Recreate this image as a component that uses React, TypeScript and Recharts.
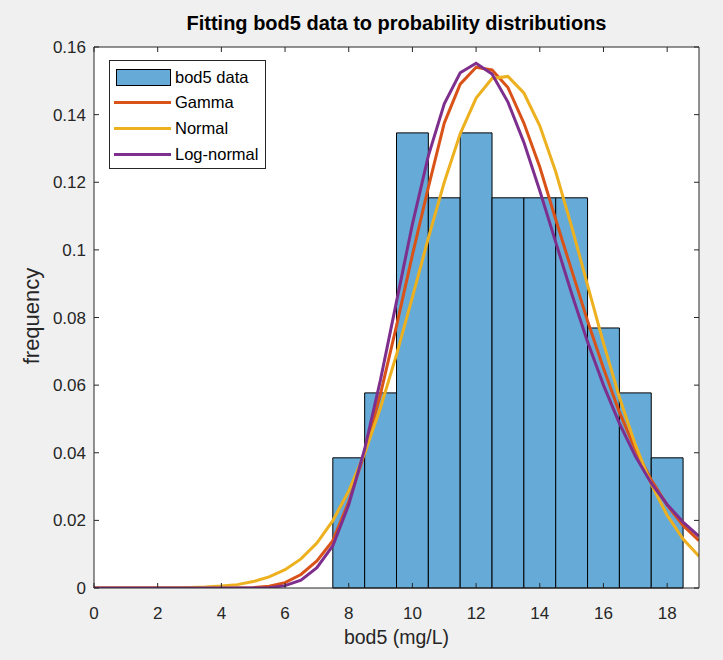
import { ComposedChart, Line, XAxis, YAxis, ReferenceArea } from "recharts";

// histogram bins of bod5 (width 1 mg/L), normalized to frequency
const binLo = [7.5, 8.5, 9.5, 10.5, 11.5, 12.5, 13.5, 14.5, 15.5, 16.5, 17.5];
const binHi = [8.5, 9.5, 10.5, 11.5, 12.5, 13.5, 14.5, 15.5, 16.5, 17.5, 18.5];
const binFreq = [0.0385, 0.0577, 0.1346, 0.1154, 0.1346, 0.1154, 0.1154, 0.1154, 0.0769, 0.0577, 0.0385];

// fitted pdf curves
const xs = [
  0, 0.5, 1, 1.5, 2, 2.5, 3, 3.5, 4, 4.5, 5, 5.5, 6, 6.5, 7, 7.5, 8, 8.5, 9, 9.5,
  10, 10.5, 11, 11.5, 12, 12.5, 13, 13.5, 14, 14.5, 15, 15.5, 16, 16.5, 17, 17.5, 18, 18.5, 19,
];
const gammaPdf = [
  0, 0, 0, 0, 0, 0, 0, 0, 0, 0.00002, 0.0001, 0.0005, 0.0016, 0.004, 0.008, 0.014, 0.0255, 0.04, 0.0575, 0.0775,
  0.0985, 0.1185, 0.1375, 0.149, 0.154, 0.1532, 0.148, 0.1375, 0.1245, 0.109, 0.094, 0.079, 0.065, 0.052, 0.041, 0.032, 0.0245, 0.0185, 0.014,
];
const normalPdf = [
  0, 0, 0.00001, 0.00001, 0.00003, 0.00007, 0.00015, 0.0003, 0.00056, 0.001, 0.0019, 0.0033, 0.0054, 0.0086, 0.0133, 0.0199, 0.0287, 0.0399, 0.0534, 0.069,
  0.086, 0.1035, 0.12, 0.1343, 0.1449, 0.1507, 0.1513, 0.1464, 0.1367, 0.1231, 0.1069, 0.0896, 0.0724, 0.0564, 0.0424, 0.0307, 0.0215, 0.0145, 0.0094,
];
const lognormalPdf = [
  0, 0, 0, 0, 0, 0, 0, 0, 0, 0, 0, 0.0001, 0.0007, 0.0023, 0.006, 0.0125, 0.0246, 0.0411, 0.0617, 0.0847,
  0.1076, 0.1278, 0.1432, 0.1524, 0.1552, 0.152, 0.1437, 0.1318, 0.1175, 0.1023, 0.0871, 0.0728, 0.06, 0.0487, 0.039, 0.031, 0.0247, 0.0195, 0.0153,
];

const xTicks = [0, 2, 4, 6, 8, 10, 12, 14, 16, 18];
const yTicks = [0, 0.02, 0.04, 0.06, 0.08, 0.1, 0.12, 0.14, 0.16];

const BAR = "#66aad7";
const GAMMA = "#d95319";
const NORMAL = "#edb120";
const LOGN = "#7e2f8e";
const INK = "#262626";
const FONT = "'Liberation Sans', Arial, sans-serif";

const data = xs.map((x, i) => ({
  x,
  Gamma: gammaPdf[i],
  Normal: normalPdf[i],
  Lognormal: lognormalPdf[i],
}));

const fmtY = (v: number) => String(Number(v.toFixed(2)));
const noTick = () => <g />;

export default function App() {
  const tickStyle = { fill: INK, fontSize: 17, fontFamily: FONT };
  return (
    <div style={{ position: "fixed", left: 0, top: 0, width: 723, height: 660, background: "#f0f0f0", fontFamily: FONT }}>
      <ComposedChart
        width={723}
        height={660}
        data={data}
        margin={{ top: 37, right: 14, bottom: 32, left: 24 }}
      >
        <rect x={94} y={47} width={605} height={541} fill="#ffffff" />
        <XAxis
          dataKey="x" type="number" domain={[0, 19]} ticks={xTicks}
          allowDataOverflow height={40}
          stroke={INK} tickSize={-5} tickMargin={24}
          tick={tickStyle}
        />
        <XAxis
          xAxisId="top" orientation="top" dataKey="x" type="number" domain={[0, 19]} ticks={xTicks}
          allowDataOverflow height={10}
          stroke={INK} tickSize={-5} tick={noTick}
        />
        <YAxis
          type="number" domain={[0, 0.16]} ticks={yTicks} width={70}
          allowDataOverflow
          stroke={INK} tickSize={-5} tickMargin={13}
          tick={tickStyle} tickFormatter={fmtY}
        />
        <YAxis
          yAxisId="right" orientation="right" type="number" domain={[0, 0.16]} ticks={yTicks} width={10}
          allowDataOverflow
          stroke={INK} tickSize={-5} tick={noTick}
        />
        {binFreq.map((f, i) => (
          <ReferenceArea
            key={i} x1={binLo[i]} x2={binHi[i]} y1={0} y2={f}
            fill={BAR} fillOpacity={1} stroke="#000000" strokeWidth={1} strokeOpacity={1}
            ifOverflow="visible"
          />
        ))}
        <Line type="linear" dataKey="Gamma" stroke={GAMMA} strokeWidth={3} dot={false} isAnimationActive={false} />
        <Line type="linear" dataKey="Normal" stroke={NORMAL} strokeWidth={3} dot={false} isAnimationActive={false} />
        <Line type="linear" dataKey="Lognormal" stroke={LOGN} strokeWidth={3} dot={false} isAnimationActive={false} />
      </ComposedChart>

      <div style={{ position: "absolute", left: 94, width: 605, top: 12, textAlign: "center", fontWeight: "bold", fontSize: 20, color: "#000" }}>
        Fitting bod5 data to probability distributions
      </div>
      <div style={{ position: "absolute", left: 94, width: 605, top: 626, textAlign: "center", fontSize: 19.5, color: INK }}>
        bod5 (mg/L)
      </div>
      <div style={{ position: "absolute", left: 32, top: 316, width: 0, height: 0 }}>
        <div style={{ position: "absolute", transform: "translate(-50%, -50%) rotate(-90deg)", whiteSpace: "nowrap", fontSize: 22, color: INK }}>
          frequency
        </div>
      </div>

      <div style={{ position: "absolute", left: 109, top: 60, width: 155, height: 107, border: `1px solid ${INK}`, background: "#fff", fontSize: 16.5, color: "#000" }}>
        {[
          { name: "bod5 data", color: BAR, bar: true },
          { name: "Gamma", color: GAMMA },
          { name: "Normal", color: NORMAL },
          { name: "Log-normal", color: LOGN },
        ].map((e, i) => (
          <div key={e.name} style={{ position: "absolute", left: 4, top: 5 + i * 25.7, height: 22, display: "flex", alignItems: "center" }}>
            {e.bar ? (
              <span style={{ width: 55, height: 17, background: e.color, border: "1px solid #000", boxSizing: "border-box", marginLeft: 2 }} />
            ) : (
              <span style={{ width: 57, height: 3, background: e.color }} />
            )}
            <span style={{ marginLeft: 4 }}>{e.name}</span>
          </div>
        ))}
      </div>
    </div>
  );
}
